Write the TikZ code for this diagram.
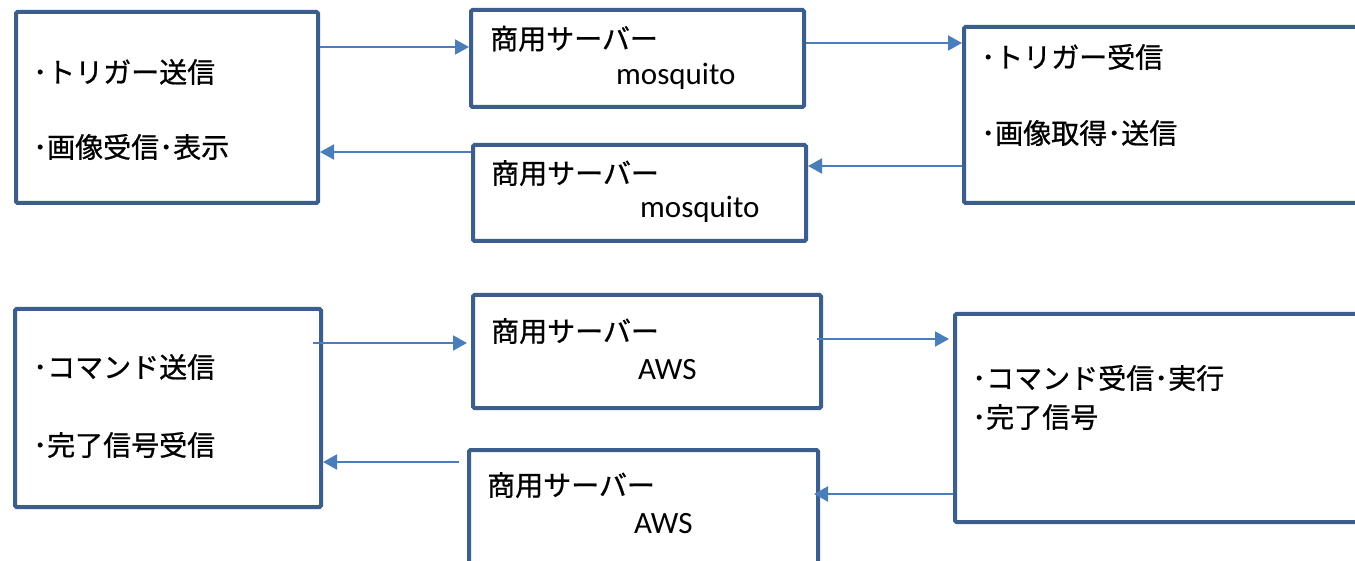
\documentclass[tikz,border=0pt]{standalone}
\usepackage{fontspec}
\setmainfont{Carlito}
\newfontfamily\jp[FakeBold=0.8]{Noto Sans CJK JP}
\usetikzlibrary{arrows.meta,calc}
\definecolor{boxc}{HTML}{3B5E8C}
\definecolor{arrc}{HTML}{4A7EBB}
\begin{document}
\begin{tikzpicture}[x=1pt,y=-1pt,
  box/.style={draw=boxc,line width=4pt,rounded corners=1.5pt,inner sep=0pt,anchor=north west},
  jt/.style={font=\jp\fontsize{28}{34}\selectfont,inner sep=0pt,anchor=west,text height=24.64pt,text depth=3.36pt},
  lt/.style={font=\fontsize{31}{37}\selectfont,inner sep=0pt,anchor=base west},
  arr/.style={draw=arrc,line width=2pt,-{Triangle[length=14pt,width=15pt]}}]
\clip (0,0) rectangle (1355,561);
\fill[white] (0,0) rectangle (1355,561);
% boxes
\node[box,minimum width=302pt,minimum height=191pt] (L1) at (14,10) {};
\node[box,minimum width=333pt,minimum height=97pt] (M1) at (469,8) {};
\node[box,minimum width=333pt,minimum height=96pt] (M2) at (471,143) {};
\node[box,minimum width=450pt,minimum height=176pt] (R1) at (962,25) {};
\node[box,minimum width=306pt,minimum height=198pt] (L2) at (13,307) {};
\node[box,minimum width=348pt,minimum height=113pt] (M3) at (471,293) {};
\node[box,minimum width=349pt,minimum height=160pt] (M4) at (467,448) {};
\node[box,minimum width=450pt,minimum height=208pt] (R2) at (953,312) {};
% texts
\node[jt] (t1) at (33,72) {･トリガー送信};
\node[jt] (t2) at (33,147) {･画像受信･表示};
\node[jt] (t3) at (490,38.5) {商用サーバー};
\node[lt] (t4) at (616,85) {mosquito};
\node[jt] (t5) at (491,173) {商用サーバー};
\node[lt] (t6) at (640,218) {mosquito};
\node[jt] (t7) at (981,57) {･トリガー受信};
\node[jt] (t8) at (981,133) {･画像取得･送信};
\node[jt] (t9) at (33,367) {･コマンド送信};
\node[jt] (t10) at (33,445) {･完了信号受信};
\node[jt] (t11) at (491,331) {商用サーバー};
\node[lt] (t12) at (638,379) {AWS};
\node[jt] (t13) at (487,485) {商用サーバー};
\node[lt] (t14) at (634,533) {AWS};
\node[jt] (t15) at (972,378) {･コマンド受信･実行};
\node[jt] (t16) at (972,417) {･完了信号};
% arrows
\draw[arr] (L1.east |- 0,47) -- (M1.west |- 0,47);
\draw[arr] (M1.east |- 0,43) -- (R1.west |- 0,43);
\draw[arr] (R1.west |- 0,166) -- (M2.east |- 0,166);
\draw[arr] (M2.west |- 0,152) -- (L1.east |- 0,152);
\draw[arr] ($(L2.east |- 0,343)+(-10,0)$) -- ($(M3.west |- 0,343)+(-4,0)$);
\draw[arr] ($(M3.east |- 0,339)+(-6,0)$) -- ($(R2.west |- 0,339)+(-4,0)$);
\draw[arr] (R2.west |- 0,494) -- ($(M4.east |- 0,494)+(-6,0)$);
\draw[arr] ($(M4.west |- 0,462)+(-8,0)$) -- (L2.east |- 0,462);
\end{tikzpicture}
\end{document}
